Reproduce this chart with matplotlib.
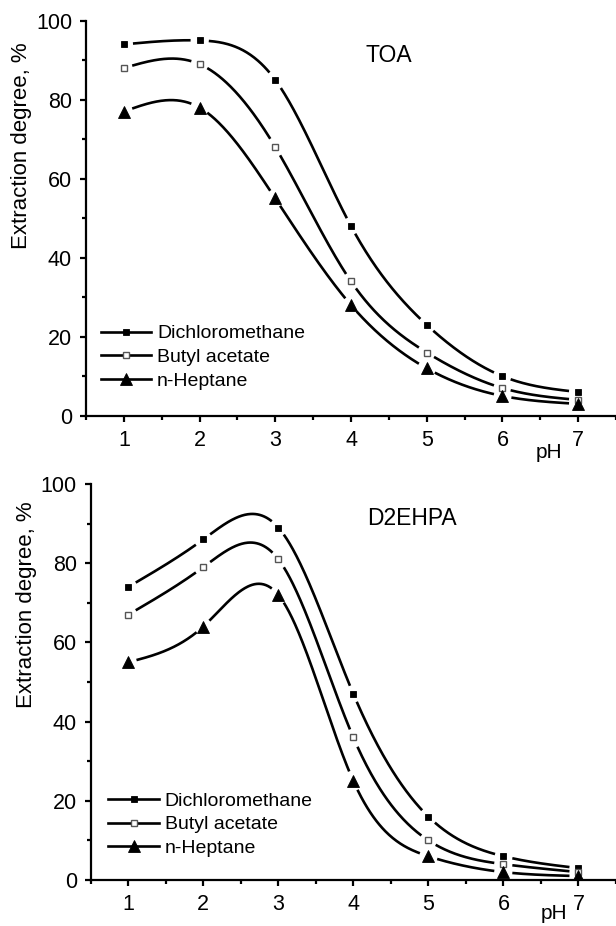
import numpy as np
import matplotlib as mpl
mpl.use('Agg')
import matplotlib.pyplot as plt

# data
# ----------------------------
ph = [1, 2, 3, 4, 5, 6, 7]
series_names = ['Dichloromethane', 'Butyl acetate', 'n-Heptane']

toa_dcm = [94, 95, 85, 48, 23, 10, 6]
toa_butyl = [88, 89, 68, 34, 16, 7, 4]
toa_heptane = [77, 78, 55, 28, 12, 5, 3]

d2ehpa_dcm = [74, 86, 89, 47, 16, 6, 3]
d2ehpa_butyl = [67, 79, 81, 36, 10, 4, 2]
d2ehpa_heptane = [55, 64, 72, 25, 6, 2, 1]

y_ticks = [0, 20, 40, 60, 80, 100]
x_ticks = [1, 2, 3, 4, 5, 6, 7]

# styles
# ------
W, H = 616, 926
DPI = 100
lw = 1.9
gap_px = 8.5        # Origin-like gap between line and symbol
markers = [
    dict(marker='s', markersize=4.4, markerfacecolor='black', markeredgecolor='black', markeredgewidth=0.6),
    dict(marker='s', markersize=4.0, markerfacecolor='white', markeredgecolor='#555555', markeredgewidth=1.0),
    dict(marker='^', markersize=8.0, markerfacecolor='black', markeredgecolor='black', markeredgewidth=0.6),
]
legend_markers = [
    dict(marker='s', markersize=5.0, markerfacecolor='black', markeredgecolor='black', markeredgewidth=0.6),
    dict(marker='s', markersize=5.0, markerfacecolor='white', markeredgecolor='#555555', markeredgewidth=1.0),
    dict(marker='^', markersize=8.5, markerfacecolor='black', markeredgecolor='black', markeredgewidth=0.6),
]

mpl.rcParams.update({
    "font.family": ["Liberation Sans", "DejaVu Sans"],
    "axes.linewidth": 1.6,
    "xtick.major.width": 1.6,
    "ytick.major.width": 1.6,
    "xtick.minor.width": 1.6,
    "ytick.minor.width": 1.6,
})


def natural_spline(x, y, xs):
    x = np.asarray(x, float)
    y = np.asarray(y, float)
    n = len(x)
    h = np.diff(x)
    A = np.zeros((n, n))
    r = np.zeros(n)
    A[0, 0] = A[-1, -1] = 1
    for i in range(1, n - 1):
        A[i, i - 1] = h[i - 1]
        A[i, i] = 2 * (h[i - 1] + h[i])
        A[i, i + 1] = h[i]
        r[i] = 3 * ((y[i + 1] - y[i]) / h[i] - (y[i] - y[i - 1]) / h[i - 1])
    c = np.linalg.solve(A, r)
    b = (y[1:] - y[:-1]) / h - h * (2 * c[:-1] + c[1:]) / 3
    d = (c[1:] - c[:-1]) / (3 * h)
    idx = np.clip(np.searchsorted(x, xs) - 1, 0, n - 2)
    dx = xs - x[idx]
    return y[idx] + b[idx] * dx + c[idx] * dx ** 2 + d[idx] * dx ** 3


def px(box):
    # box in pixels: left, top, right, bottom -> figure fractions
    l, t, r, b = box
    return [l / W, 1 - b / H, (r - l) / W, (b - t) / H]


def draw_panel(ax, xlim, series, title, title_xy, ylabel_px, ph_xy, leg_anchor):
    ax.set_xlim(xlim)
    ax.set_ylim(0, 100)
    for side in ['top', 'right']:
        ax.spines[side].set_visible(False)
    ax.set_xticks(x_ticks)
    ax.set_xticks(np.arange(0.5, 7.6, 0.5), minor=True)
    ax.set_yticks(y_ticks)
    ax.set_yticks(np.arange(10, 100, 20), minor=True)
    ax.tick_params(which='major', direction='out', length=4.5, labelsize=15.5, pad=5.5)
    ax.tick_params(which='minor', direction='out', length=3)

    xs = np.linspace(ph[0], ph[-1], 600)
    handles = []
    for vals, mk, lmk, name in zip(series, markers, legend_markers, series_names):
        ys = natural_spline(ph, vals, xs)
        # cut the curve near each symbol, like Origin does
        curve = ax.transData.transform(np.column_stack([xs, ys]))
        pts = ax.transData.transform(np.column_stack([ph, vals]))
        dist = np.min(np.hypot(curve[:, None, 0] - pts[None, :, 0],
                               curve[:, None, 1] - pts[None, :, 1]), axis=1)
        ys = np.where(dist < gap_px, np.nan, ys)
        ax.plot(xs, ys, color='black', lw=lw, solid_capstyle='butt')
        ax.plot(ph, vals, linestyle='none', zorder=3, **mk)
        h, = ax.plot([], [], color='black', lw=lw, label=name, **lmk)
        handles.append(h)

    ax.legend(handles=handles, loc='upper left', bbox_to_anchor=leg_anchor,
              frameon=False, fontsize=14, handlelength=2.6, handletextpad=0.3,
              labelspacing=0.31, borderpad=0, borderaxespad=0, numpoints=1)

    ax.text(title_xy[0], title_xy[1], title, fontsize=16.5, ha='center', va='center')
    ax.text(ph_xy[0], ph_xy[1], 'pH', fontsize=15, ha='center', va='center',
            transform=ax.transAxes)
    fig.text(ylabel_px[0] / W, 1 - ylabel_px[1] / H, 'Extraction degree, %',
             rotation=90, ha='center', va='center', fontsize=16)


fig = plt.figure(figsize=(W / DPI, H / DPI), dpi=DPI)
fig.patch.set_facecolor('white')

ax1 = fig.add_axes(px((86, 20.7, 616, 415.7)))
draw_panel(ax1, (0.54, 7.405), [toa_dcm, toa_butyl, toa_heptane], 'TOA', (4.5, 91.2),
           (22, 146), (0.874, -0.092), (0.0277, 0.23))

ax2 = fig.add_axes(px((90.7, 484, 616, 880)))
draw_panel(ax2, (0.51, 7.29), [d2ehpa_dcm, d2ehpa_butyl, d2ehpa_heptane], 'D2EHPA', (4.78, 91.4),
           (26.7, 605), (0.882, -0.085), (0.0335, 0.222))

fig.savefig('out.png', dpi=DPI)
